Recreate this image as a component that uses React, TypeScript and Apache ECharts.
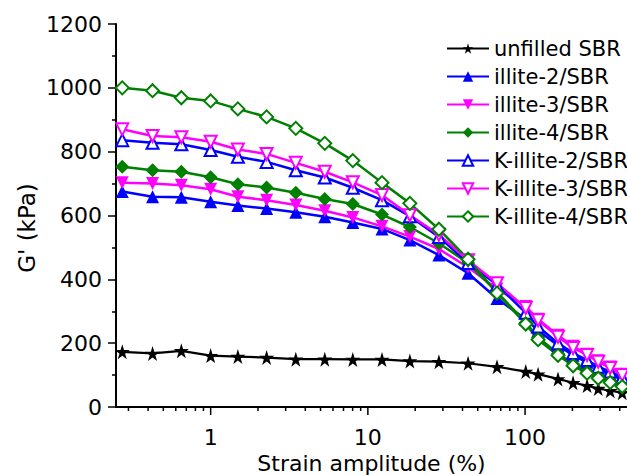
import React, { useEffect, useRef } from "react";
import * as echarts from "echarts";

const strain = [0.274, 0.427, 0.651, 1, 1.49, 2.27, 3.48, 5.32, 8.02, 12.3, 18.5, 28.3, 43.4, 66.3, 101, 121, 162, 202, 248, 292, 348, 415];

const unfilledSBR = [173, 168, 176, 161, 158, 155, 150, 150, 149, 149, 144, 142, 137, 126, 111, 103, 88, 76, 67, 58, 51, 45];
const illite2 = [675, 659, 657, 643, 631, 622, 610, 596, 578, 558, 523, 476, 419, 340, 275, 240, 193, 162, 140, 120, 103, 86];
const illite3 = [703, 700, 695, 682, 659, 648, 633, 615, 594, 566, 534, 495, 438, 370, 315, 275, 225, 190, 165, 145, 125, 103];
const illite4 = [753, 742, 737, 720, 698, 688, 671, 652, 636, 603, 564, 513, 451, 360, 265, 218, 168, 135, 112, 98, 82, 68];
const kIllite2 = [836, 828, 823, 805, 784, 768, 742, 719, 687, 648, 598, 533, 451, 383, 295, 252, 200, 169, 147, 126, 111, 93];
const kIllite3 = [870, 849, 845, 831, 807, 793, 765, 737, 704, 664, 601, 540, 460, 388, 310, 272, 220, 185, 163, 142, 122, 100];
const kIllite4 = [1000, 991, 969, 959, 934, 909, 873, 826, 772, 703, 638, 557, 463, 357, 260, 211, 162, 129, 106, 90, 77, 64];

const seriesNames = ["unfilled SBR", "illite-2/SBR", "illite-3/SBR", "illite-4/SBR", "K-illite-2/SBR", "K-illite-3/SBR", "K-illite-4/SBR"];

const xTickValues = [0.3, 0.4, 0.5, 0.6, 0.7, 0.8, 0.9, 1, 2, 3, 4, 5, 6, 7, 8, 9, 10, 20, 30, 40, 50, 60, 70, 80, 90, 100, 200, 300, 400];
const xLabelValues = [1, 10, 100];

const FONT = "DejaVu Sans";
const STAR = "path://M50,0 L61,35 L98,35 L68,57 L79,91 L50,70 L21,91 L32,57 L2,35 L39,35 Z";
const DOWN_TRI = "path://M0,0 L100,0 L50,90 Z";

function pairs(ys: number[]) {
  return strain.map((x, i) => [x, ys[i]]);
}

function mkSeries(name: string, ys: number[], color: string, symbol: string, open: boolean, size: number, lw: number) {
  return {
    name,
    type: "line",
    data: pairs(ys),
    symbol,
    symbolSize: size,
    showSymbol: true,
    lineStyle: { color, width: lw },
    itemStyle: open
      ? { color: "#ffffff", borderColor: color, borderWidth: 2 }
      : { color, borderColor: color, borderWidth: 0 },
    emphasis: { disabled: true },
    z: 3,
  };
}

export default function App() {
  const ref = useRef<HTMLDivElement>(null);
  useEffect(() => {
    if (!ref.current) return;
    const chart = echarts.init(ref.current, null, { renderer: "svg" });
    const option: any = {
      animation: false,
      backgroundColor: "#ffffff",
      grid: { left: 116, right: 0, top: 24, bottom: 68, containLabel: false, outerBoundsMode: "none" },
      legend: {
        orient: "vertical",
        left: 441,
        top: 33,
        itemWidth: 42,
        itemHeight: 13,
        itemGap: 7,
        data: seriesNames,
        textStyle: { fontFamily: FONT, fontSize: 21, color: "#000", lineHeight: 21 },
        selectedMode: false,
      },
      xAxis: [
        {
          type: "log",
          logBase: 10,
          min: 0.25,
          max: 445,
          name: "Strain amplitude (%)",
          nameLocation: "middle",
          nameGap: 38,
          nameTextStyle: { fontFamily: FONT, fontSize: 22, color: "#000" },
          axisLine: { show: true, onZero: false, lineStyle: { color: "#000", width: 2 } },
          axisTick: { show: false },
          splitLine: { show: false },
          axisLabel: {
            fontFamily: FONT,
            fontSize: 22,
            color: "#000",
            margin: 19,
            showMinLabel: false,
            showMaxLabel: false,
            formatter: (v: number) => {
              const m = xLabelValues.find((t) => Math.abs(t - v) / t < 1e-6);
              return m !== undefined ? String(m) : "";
            },
          },
        },
        {
          type: "value",
          position: "top",
          min: 0,
          max: 1,
          axisLine: { show: true, lineStyle: { color: "#000", width: 2 } },
          axisTick: { show: false },
          axisLabel: { show: false },
          splitLine: { show: false },
        },
      ],
      yAxis: {
        type: "value",
        min: 0,
        max: 1200,
        interval: 200,
        axisLine: { show: true, lineStyle: { color: "#000", width: 2 } },
        axisTick: { show: true, inside: false, length: 8, lineStyle: { color: "#000", width: 1.5 } },
        minorTick: { show: true, splitNumber: 2, length: 4, lineStyle: { color: "#000", width: 1.5 } },
        splitLine: { show: false },
        axisLabel: {
          fontFamily: FONT,
          fontSize: 22,
          color: "#000",
          margin: 14,
          formatter: (v: number) => String(v),
        },
      },
      graphic: [
        {
          type: "text",
          x: 27,
          y: 228,
          rotation: Math.PI / 2,
          style: {
            text: "G' (kPa)",
            fontFamily: FONT,
            fontSize: 23,
            fill: "#000",
            align: "center",
            verticalAlign: "middle",
          },
        },
      ],
      series: [
        {
          type: "custom",
          name: "xticks",
          xAxisIndex: 0,
          yAxisIndex: 0,
          data: xTickValues.map((v) => [v, 0]),
          clip: false,
          silent: true,
          z: 1,
          renderItem: (params: any, api: any) => {
            const v = api.value(0);
            const p = api.coord([v, 0]);
            const lg = Math.log10(v);
            const major = Math.abs(lg - Math.round(lg)) < 1e-6;
            const len = major ? 8 : 4;
            return {
              type: "line",
              shape: { x1: p[0], y1: p[1], x2: p[0], y2: p[1] + len },
              style: { stroke: "#000", lineWidth: 1.5 },
            };
          },
        },
        mkSeries(seriesNames[0], unfilledSBR, "#000000", STAR, false, 15, 2.2),
        mkSeries(seriesNames[1], illite2, "#0000ff", "triangle", false, 13, 2.5),
        mkSeries(seriesNames[2], illite3, "#ff00ff", DOWN_TRI, false, 13, 2.5),
        mkSeries(seriesNames[3], illite4, "#008000", "diamond", false, 14, 2.5),
        mkSeries(seriesNames[4], kIllite2, "#0000ff", "triangle", true, 12, 2.5),
        mkSeries(seriesNames[5], kIllite3, "#ff00ff", DOWN_TRI, true, 12, 2.5),
        mkSeries(seriesNames[6], kIllite4, "#008000", "diamond", true, 13, 2.5),
      ],
    };
    chart.setOption(option);
    return () => chart.dispose();
  }, []);
  return <div ref={ref} style={{ width: 627, height: 475, position: "absolute", left: 0, top: 0 }} />;
}
